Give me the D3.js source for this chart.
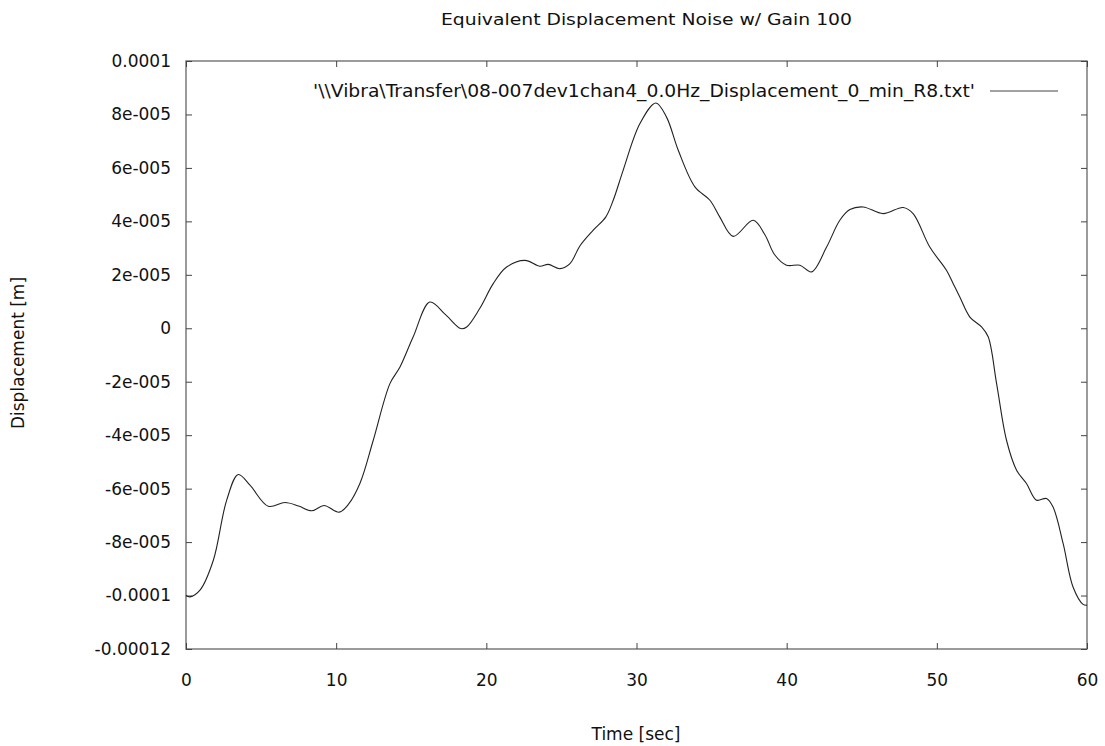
<!DOCTYPE html>
<html>
<head>
<meta charset="utf-8">
<script src="https://cdn.jsdelivr.net/npm/d3@7"></script>
<style>
  body { margin: 0; background: #fff; }
  text { font-family: "DejaVu Sans", "Liberation Sans", sans-serif; fill: #111; }
</style>
</head>
<body>
<div id="chart"></div>
<script>
// time [sec]
var timeValues = [0, 0.27, 0.93, 1.82, 2.71, 3.48, 4.26, 5.48, 6.59, 7.5, 8.37, 9.19, 10.2, 10.8,
  11.58, 12.47, 13.58, 14.25, 15.13, 16.24, 17.3, 18.3, 18.69, 19.57, 20.46, 21.35, 22.57,
  23.57, 24.12, 24.9, 25.57, 26.23, 27.12, 27.95, 28.45, 29.11, 30.23, 31.29, 32.0, 32.78,
  33.89, 34.89, 35.55, 36.44, 37.77, 38.55, 39.2, 39.99, 40.88, 41.66, 42.66, 43.54,
  44.21, 45.09, 46.42, 47.76, 48.42, 49.53, 50.64, 51.09, 51.53, 52.2, 52.98, 53.42, 53.98,
  54.64, 55.31, 55.97, 56.64, 57.3, 57.74, 58.41, 59.07, 59.74, 60];
// displacement, in units of 1e-5 m
var dispValues = [-10.0, -10.05, -9.8, -8.68, -6.43, -5.47, -5.87, -6.66, -6.52, -6.65, -6.83, -6.63, -6.88, -6.6,
  -5.81, -4.19, -2.07, -1.45, -0.32, 0.98, 0.5, -0.01, 0.05, 0.75, 1.67, 2.29, 2.54,
  2.32, 2.39, 2.23, 2.42, 3.08, 3.67, 4.16, 4.79, 5.91, 7.66, 8.43, 7.9, 6.66,
  5.29, 4.79, 4.16, 3.44, 4.04, 3.5, 2.75, 2.36, 2.36, 2.11, 3.04, 4.04,
  4.44, 4.54, 4.29, 4.52, 4.29, 3.04, 2.17, 1.67, 1.17, 0.42, 0.05, -0.32, -2.07,
  -4.19, -5.31, -5.81, -6.43, -6.37, -6.69, -8.05, -9.68, -10.33, -10.36];

var xTicks = [0, 10, 20, 30, 40, 50, 60];
var yTicks = [-0.00012, -0.0001, -8e-5, -6e-5, -4e-5, -2e-5, 0, 2e-5, 4e-5, 6e-5, 8e-5, 0.0001];
var yTickLabels = ["-0.00012", "-0.0001", "-8e-005", "-6e-005", "-4e-005", "-2e-005", "0",
  "2e-005", "4e-005", "6e-005", "8e-005", "0.0001"];

var data = timeValues.map(function (t, i) { return { t: t, v: dispValues[i] * 1e-5 }; });

var margin = { top: 61, right: 18, bottom: 97, left: 186 },
  width = 1105 - margin.left - margin.right,
  height = 746 - margin.top - margin.bottom;

var svg = d3.select("#chart")
  .append("svg")
  .attr("width", 1105)
  .attr("height", 746);

var g = svg.append("g")
  .attr("transform", "translate(" + margin.left + "," + margin.top + ")");

var x = d3.scaleLinear().domain([0, 60]).range([0, width]);
var y = d3.scaleLinear().domain([-0.00012, 0.0001]).range([height, 0]);

// frame
g.append("rect")
  .attr("width", width)
  .attr("height", height)
  .attr("fill", "none")
  .attr("stroke", "#666")
  .attr("stroke-width", 1.3);

// axes with inward ticks, mirrored on top / right
var tickLen = 6;
function styleAxis(sel) {
  sel.select(".domain").remove();
  sel.selectAll(".tick line").attr("stroke", "#444");
  sel.selectAll(".tick text")
    .style("font-family", "DejaVu Sans, sans-serif")
    .style("font-size", "17px").attr("fill", "#111");
}

g.append("g")
  .attr("transform", "translate(0," + height + ")")
  .call(d3.axisBottom(x).tickValues(xTicks).tickSize(-tickLen).tickPadding(25)
    .tickFormat(d3.format("d")))
  .call(styleAxis);

g.append("g")
  .call(d3.axisTop(x).tickValues(xTicks).tickSize(-tickLen).tickFormat(""))
  .call(styleAxis);

g.append("g")
  .call(d3.axisLeft(y).tickValues(yTicks).tickSize(-tickLen).tickPadding(15)
    .tickFormat(function (d, i) { return yTickLabels[i]; }))
  .call(styleAxis);

g.append("g")
  .attr("transform", "translate(" + width + ",0)")
  .call(d3.axisRight(y).tickValues(yTicks).tickSize(-tickLen).tickFormat(""))
  .call(styleAxis);

// data line
var line = d3.line()
  .x(function (d) { return x(d.t); })
  .y(function (d) { return y(d.v); })
  .curve(d3.curveCatmullRom.alpha(0.5));

g.append("path")
  .datum(data)
  .attr("fill", "none")
  .attr("stroke", "#222")
  .attr("stroke-width", 1.1)
  .attr("d", line);

// legend (the scanned text is a bit wider than the font, so stretch it)
g.append("text")
  .attr("x", 127)
  .attr("y", 36)
  .attr("textLength", 662)
  .attr("lengthAdjust", "spacingAndGlyphs")
  .style("font-size", "17px")
  .text("'\\\\Vibra\\Transfer\\08-007dev1chan4_0.0Hz_Displacement_0_min_R8.txt'");

g.append("line")
  .attr("x1", 804).attr("x2", 872)
  .attr("y1", 30).attr("y2", 30)
  .attr("stroke", "#444")
  .attr("stroke-width", 1);

// title and axis labels
svg.append("text")
  .attr("x", 441)
  .attr("y", 25)
  .attr("textLength", 411)
  .attr("lengthAdjust", "spacingAndGlyphs")
  .style("font-size", "16px")
  .text("Equivalent Displacement Noise w/ Gain 100");

svg.append("text")
  .attr("x", 636)
  .attr("y", 740)
  .attr("text-anchor", "middle")
  .style("font-size", "17px")
  .text("Time [sec]");

svg.append("text")
  .attr("transform", "translate(24,353) rotate(-90)")
  .attr("text-anchor", "middle")
  .style("font-size", "17px")
  .text("Displacement [m]");
</script>
</body>
</html>
